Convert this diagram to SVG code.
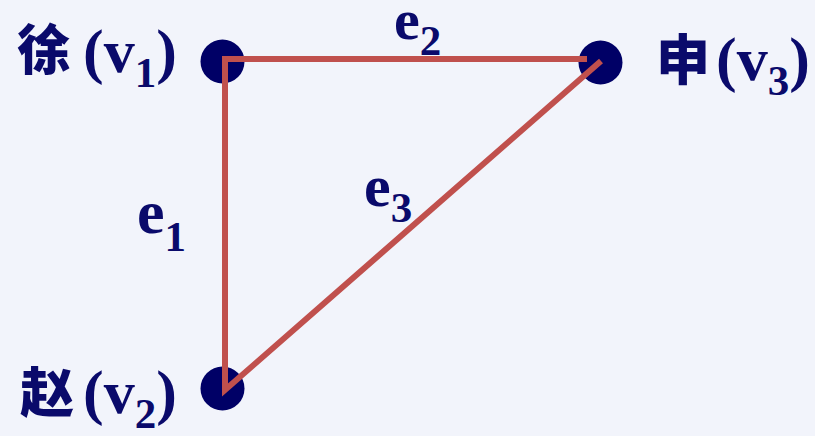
<svg xmlns="http://www.w3.org/2000/svg" width="815" height="436" viewBox="0 0 815 436">
<style>
.lbl{font-family:'Liberation Serif','Times New Roman',serif;font-weight:bold;font-size:62px;fill:#0a0a6b}
.sub{font-size:43px}
.cjk{font-family:'Noto Sans CJK SC','Noto Sans CJK JP',sans-serif;font-weight:900;font-size:54px;fill:#0a0a6b}
.edge{stroke:#c0504d;stroke-width:6;fill:none;stroke-linecap:butt;stroke-linejoin:miter}
.node{fill:#000066}
</style>
<rect width="815" height="436" fill="#f2f4fb"/>
<g id="v1">
<circle class="node" cx="222.5" cy="61.5" r="22"/>
<text class="cjk" x="17" y="70">徐</text>
<text class="lbl" x="83" y="72">(v<tspan class="sub" dy="15">1</tspan><tspan dy="-15">)</tspan></text>
</g>
<g id="v2">
<circle class="node" cx="222.5" cy="388.5" r="22"/>
<text class="cjk" x="20" y="413">赵</text>
<text class="lbl" x="83" y="413">(v<tspan class="sub" dy="15">2</tspan><tspan dy="-15">)</tspan></text>
</g>
<g id="v3">
<circle class="node" cx="600.5" cy="62.5" r="22"/>
<text class="cjk" x="656" y="80">申</text>
<text class="lbl" x="716" y="80">(v<tspan class="sub" dy="15">3</tspan><tspan dy="-15">)</tspan></text>
</g>
<g id="edges">
<polyline class="edge" points="587,59 225,59 225,390 601,61"/>
<text class="lbl" x="394" y="39" style="font-size:58px">e<tspan class="sub" dy="16">2</tspan></text>
<text class="lbl" x="137" y="233">e<tspan class="sub" dy="18">1</tspan></text>
<text class="lbl" x="364" y="206" style="font-size:60px">e<tspan class="sub" dy="16">3</tspan></text>
</g>
</svg>
